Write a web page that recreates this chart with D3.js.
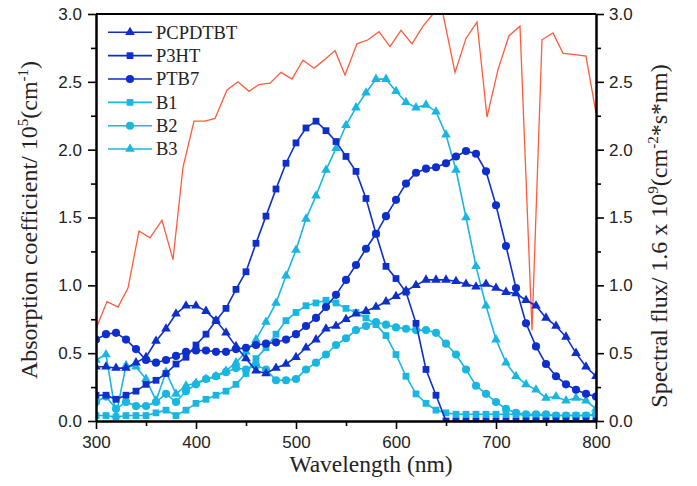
<!DOCTYPE html>
<html>
<head>
<meta charset="utf-8">
<script src="https://cdn.jsdelivr.net/npm/d3@7"></script>
<style>
  html, body { margin: 0; padding: 0; background: #fff; }
  svg { display: block; }
</style>
</head>
<body>
<script>
// ---- Data ----
const wavelengths = [300,310,320,330,340,350,360,370,380,390,
  400,410,420,430,440,450,460,470,480,490,
  500,510,520,530,540,550,560,570,580,590,
  600,610,620,630,640,650,660,670,680,690,
  700,710,720,730,740,750,760,770,780,790,800];

const PCPDTBT = [0.40,0.40,0.39,0.39,0.43,0.47,0.59,0.68,0.79,0.85,
  0.85,0.81,0.74,0.65,0.55,0.46,0.37,0.35,0.39,0.42,
  0.47,0.54,0.60,0.68,0.70,0.75,0.79,0.81,0.84,0.88,
  0.92,0.96,1.00,1.04,1.04,1.04,1.03,1.01,0.99,1.01,
  0.98,0.95,0.94,0.89,0.85,0.76,0.70,0.62,0.50,0.40,0.33];

const P3HT = [0.19,0.19,0.16,0.19,0.22,0.27,0.30,0.35,0.42,0.47,
  0.56,0.64,0.74,0.83,0.97,1.10,1.31,1.51,1.71,1.90,
  2.05,2.16,2.21,2.14,2.06,1.95,1.84,1.64,1.38,1.14,
  1.05,0.95,0.72,0.38,0.19,0.00,0.00,0.00,0.00,0.00,
  0.00,0.00,0.00,0.00,0.00,0.00,0.00,0.00,0.00,0.00,0.00];

const PTB7 = [0.60,0.64,0.65,0.60,0.53,0.45,0.43,0.45,0.48,0.51,
  0.52,0.52,0.51,0.51,0.53,0.54,0.56,0.57,0.58,0.60,
  0.64,0.70,0.76,0.84,0.93,1.04,1.15,1.27,1.38,1.51,
  1.63,1.75,1.83,1.86,1.87,1.90,1.95,1.99,1.97,1.84,
  1.59,1.29,0.98,0.72,0.55,0.42,0.33,0.27,0.23,0.20,0.18];

const B1 = [0.04,0.04,0.03,0.04,0.04,0.04,0.06,0.08,0.04,0.08,
  0.13,0.16,0.19,0.22,0.27,0.35,0.46,0.54,0.64,0.74,
  0.80,0.85,0.87,0.89,0.87,0.83,0.80,0.76,0.71,0.63,
  0.49,0.33,0.20,0.13,0.08,0.06,0.05,0.05,0.05,0.05,
  0.05,0.05,0.05,0.04,0.04,0.04,0.04,0.04,0.04,0.04,0.04];

const B2 = [0.14,0.18,0.09,0.14,0.11,0.11,0.14,0.20,0.14,0.22,
  0.27,0.31,0.33,0.36,0.39,0.38,0.41,0.38,0.30,0.30,
  0.31,0.38,0.43,0.49,0.56,0.61,0.67,0.70,0.73,0.71,
  0.69,0.68,0.67,0.67,0.65,0.57,0.49,0.38,0.26,0.20,
  0.14,0.09,0.06,0.05,0.05,0.05,0.04,0.04,0.04,0.04,0.05];

const B3 = [0.45,0.49,0.04,0.41,0.40,0.31,0.15,0.36,0.20,0.26,
  0.28,0.31,0.33,0.37,0.43,0.51,0.60,0.73,0.87,1.07,
  1.26,1.49,1.66,1.85,2.01,2.18,2.31,2.42,2.52,2.52,
  2.43,2.35,2.31,2.33,2.28,2.11,1.85,1.50,1.14,0.85,
  0.60,0.43,0.33,0.27,0.23,0.17,0.18,0.15,0.17,0.15,0.09];

const fluxWavelengths = [300,311,322,332,343,354,366,377,387,398,
  409,419,431,442,453,463,474,485,496,507,
  518,528,539,549,561,572,583,594,605,616,
  627,637,647,659,670,681,691,702,713,724,
  736,746,757,767,779,790,800];
const spectralFlux = [0.68,0.88,0.84,0.98,1.40,1.35,1.48,1.19,1.87,2.21,
  2.21,2.23,2.44,2.50,2.43,2.48,2.49,2.57,2.52,2.66,
  2.60,2.66,2.73,2.55,2.78,2.81,2.87,2.76,2.88,2.78,
  2.91,3.00,3.00,2.57,2.82,2.94,2.24,2.59,2.84,2.91,
  0.67,2.81,2.86,2.71,2.70,2.69,2.27];

const seriesNames = ["PCPDTBT","P3HT","PTB7","B1","B2","B3"];
const seriesValues = [PCPDTBT, P3HT, PTB7, B1, B2, B3];
const seriesColors = ["#0f2fcb","#0f2fcb","#0f2fcb","#1ab6e2","#1ab6e2","#1ab6e2"];
const seriesSymbols = ["triangle","square","circle","square","circle","triangle"];

const xTicks = [300,400,500,600,700,800];
const yTicks = [0,0.5,1.0,1.5,2.0,2.5,3.0];
const fluxColor = "#ff5b3d";

// ---- Layout ----
const W = 697, H = 486;
const L = 96, R = 596, T = 14, B = 421;

const svg = d3.select("body").append("svg").attr("width", W).attr("height", H);

const x = d3.scaleLinear().domain([300, 800]).range([L, R]);
const y = d3.scaleLinear().domain([0, 3]).range([B, T]);

svg.append("defs").append("clipPath").attr("id","clip")
  .append("rect").attr("x", L).attr("y", T).attr("width", R - L).attr("height", B - T);

const plot = svg.append("g").attr("clip-path","url(#clip)");

// flux line
plot.append("path")
  .datum(fluxWavelengths.map((w,i)=>[w, spectralFlux[i]]))
  .attr("fill","none").attr("stroke", fluxColor).attr("stroke-width",1.3)
  .attr("d", d3.line().x(d=>x(d[0])).y(d=>y(d[1])));

const symType = {triangle: d3.symbolTriangle, square: d3.symbolSquare, circle: d3.symbolCircle};
const symSize = {triangle: 40, square: 46, circle: 52};

const line = d3.line().x(d=>x(d[0])).y(d=>y(d[1]));
const drawOrder = [5,4,3,2,1,0];
drawOrder.forEach(i => {
  const data = wavelengths.map((w,k)=>[w, seriesValues[i][k]]);
  const g = plot.append("g");
  g.append("path").datum(data).attr("fill","none")
    .attr("stroke", seriesColors[i]).attr("stroke-width",1.6).attr("d", line);
  g.selectAll("path.m").data(data).enter().append("path").attr("class","m")
    .attr("transform", d=>`translate(${x(d[0])},${y(d[1])})`)
    .attr("d", d3.symbol().type(symType[seriesSymbols[i]]).size(symSize[seriesSymbols[i]]))
    .attr("fill", seriesColors[i]);
});

// ---- Axes ----
const fmt = d3.format(".1f");
const xMinor = d3.pairs(xTicks).map(p=>(p[0]+p[1])/2);
const yMinor = d3.pairs(yTicks).map(p=>(p[0]+p[1])/2);

function styleAxis(g) {
  g.selectAll(".domain").attr("stroke","#000").attr("stroke-width",2);
  g.selectAll(".tick line").attr("stroke","#000").attr("stroke-width",1.6);
  g.selectAll(".tick text").attr("font-family","'Liberation Sans', Arial, sans-serif")
    .attr("font-size",17).attr("fill","#222");
}

const gxMinor = svg.append("g").attr("transform",`translate(0,${B})`)
  .call(d3.axisBottom(x).tickValues(xMinor).tickSize(5).tickSizeOuter(0).tickFormat(""));
styleAxis(gxMinor);
const gx = svg.append("g").attr("transform",`translate(0,${B})`)
  .call(d3.axisBottom(x).tickValues(xTicks).tickSize(8).tickSizeOuter(0).tickPadding(7));
styleAxis(gx);

const gyMinor = svg.append("g").attr("transform",`translate(${L},0)`)
  .call(d3.axisLeft(y).tickValues(yMinor).tickSize(5).tickSizeOuter(0).tickFormat(""));
styleAxis(gyMinor);
const gy = svg.append("g").attr("transform",`translate(${L},0)`)
  .call(d3.axisLeft(y).tickValues(yTicks).tickFormat(fmt).tickSize(8).tickSizeOuter(0).tickPadding(6));
styleAxis(gy);

const gyrMinor = svg.append("g").attr("transform",`translate(${R},0)`)
  .call(d3.axisRight(y).tickValues(yMinor).tickSize(5).tickSizeOuter(0).tickFormat(""));
styleAxis(gyrMinor);
const gyr = svg.append("g").attr("transform",`translate(${R},0)`)
  .call(d3.axisRight(y).tickValues(yTicks).tickFormat(fmt).tickSize(8).tickSizeOuter(0).tickPadding(5));
styleAxis(gyr);

// top frame line
svg.append("line").attr("x1", L).attr("x2", R).attr("y1", T).attr("y2", T)
  .attr("stroke","#000").attr("stroke-width",2);

// ---- Titles ----
const serif = "'Liberation Serif', 'Times New Roman', serif";
svg.append("text").attr("x", 371).attr("y", 472).attr("text-anchor","middle")
  .attr("font-family", serif).attr("font-size", 23.5).attr("fill","#222")
  .text("Wavelength (nm)");

const yt = svg.append("text").attr("transform","translate(37,220) rotate(-90)")
  .attr("text-anchor","middle").attr("font-family", serif).attr("font-size",24).attr("fill","#222");
yt.append("tspan").text("Absorption coefficient/ 10");
yt.append("tspan").attr("dy",-9).attr("font-size",15).text("5");
yt.append("tspan").attr("dy",9).text("(cm");
yt.append("tspan").attr("dy",-9).attr("font-size",15).text("-1");
yt.append("tspan").attr("dy",9).text(")");

const yr = svg.append("text").attr("transform","translate(667,236) rotate(-90)")
  .attr("text-anchor","middle").attr("font-family", serif).attr("font-size",24).attr("fill","#222");
yr.append("tspan").text("Spectral flux/ 1.6 x 10");
yr.append("tspan").attr("dy",-9).attr("font-size",15).text("9");
yr.append("tspan").attr("dy",9).text("(cm");
yr.append("tspan").attr("dy",-9).attr("font-size",15).text("-2");
yr.append("tspan").attr("dy",9).text("*s*nm)");

// ---- Legend ----
const leg = svg.append("g");
seriesNames.forEach((name,i) => {
  const cy = 32.3 + i * 23.35;
  const c = seriesColors[i];
  leg.append("line").attr("x1",108).attr("x2",152).attr("y1",cy).attr("y2",cy)
    .attr("stroke", c).attr("stroke-width",1.6);
  leg.append("path").attr("transform",`translate(130,${cy})`)
    .attr("d", d3.symbol().type(symType[seriesSymbols[i]]).size(symSize[seriesSymbols[i]]))
    .attr("fill", c);
  leg.append("text").attr("x",156).attr("y",cy+6.3)
    .attr("font-family", serif).attr("font-size",18.5).attr("fill","#222").text(name);
});
</script>
</body>
</html>
